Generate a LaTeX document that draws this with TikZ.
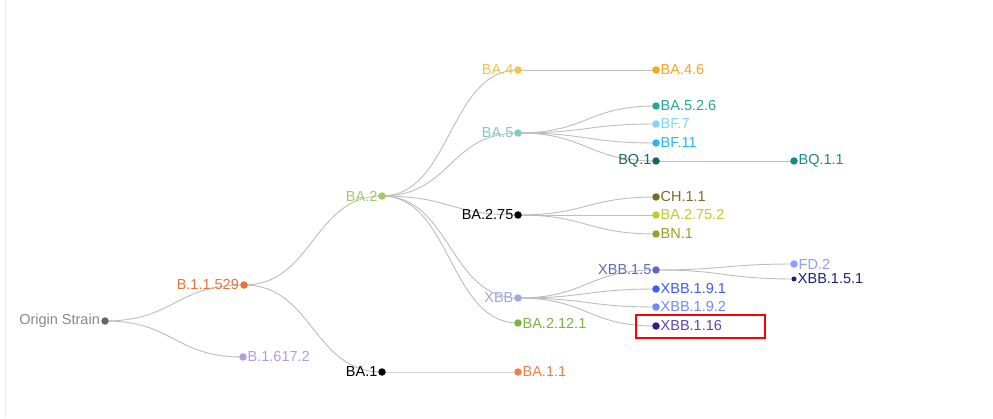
\documentclass[tikz,border=0pt]{standalone}
\usepackage{fontspec}
\setmainfont{Liberation Sans}
\usetikzlibrary{backgrounds}
\definecolor{cOrigin}{HTML}{666666}
\definecolor{tOrigin}{HTML}{888888}
\definecolor{cB529}{HTML}{E8743B}
\definecolor{cB617}{HTML}{B39DDB}
\definecolor{cBAtwo}{HTML}{9CCC65}
\definecolor{cBAfour}{HTML}{F6C244}
\definecolor{cBAfive}{HTML}{80CBC4}
\definecolor{cXBB}{HTML}{9FA8DA}
\definecolor{cBAtwelve}{HTML}{7CB342}
\definecolor{cBAoneone}{HTML}{EF7F4F}
\definecolor{cBAfoursix}{HTML}{F5A623}
\definecolor{cBAfivetwo}{HTML}{26A69A}
\definecolor{cBFseven}{HTML}{81D4FA}
\definecolor{cBFeleven}{HTML}{29B6F6}
\definecolor{cBQone}{HTML}{1A6464}
\definecolor{cBQoneone}{HTML}{1A8A8F}
\definecolor{cCH}{HTML}{7A6B22}
\definecolor{cBAsevfive}{HTML}{C0CA33}
\definecolor{cBN}{HTML}{9E9D24}
\definecolor{cXBBfive}{HTML}{5C6BC0}
\definecolor{cXBBnineone}{HTML}{3D5AFE}
\definecolor{cXBBninetwo}{HTML}{6D8BF5}
\definecolor{cXBBsixteen}{HTML}{311B92}
\definecolor{cFD}{HTML}{8C9EFF}
\definecolor{cXBBfiveone}{HTML}{1A237E}
\definecolor{edgegray}{HTML}{BDBDBD}
\definecolor{framegray}{HTML}{EEEEEE}
\tikzset{
  dot/.style={circle,inner sep=0pt,minimum size=7.5pt,draw=none},
  smalldot/.style={circle,inner sep=0pt,minimum size=5pt,draw=none},
  lt/.style={anchor=east,inner sep=0pt,font=\fontsize{14.5pt}{16pt}\selectfont},
  rt/.style={anchor=west,inner sep=0pt,font=\fontsize{14.5pt}{16pt}\selectfont},
  edge/.style={draw=edgegray,line width=0.9pt},
  hilite/.style={draw=red,line width=2pt}
}
\newcommand{\lnk}[2]{\draw[edge] (#1.center) .. controls +(69,0) and +(-69,0) .. (#2.center);}
\begin{document}
\begin{tikzpicture}[x=1pt,y=1pt]
\useasboundingbox (0,0) rectangle (993,418);
% dots
\node[dot,fill=cOrigin] (os) at (105,97) {};
\node[dot,fill=cB529] (b529) at (244,133) {};
\node[dot,fill=cB617] (b617) at (243,61) {};
\node[dot,fill=cBAtwo] (ba2) at (382,222) {};
\node[dot,fill=black] (ba1) at (382,46) {};
\node[dot,fill=cBAfour] (ba4) at (518,348) {};
\node[dot,fill=cBAfive] (ba5) at (518,285) {};
\node[dot,fill=black] (ba275) at (518,203) {};
\node[dot,fill=cXBB] (xbb) at (518,120) {};
\node[dot,fill=cBAtwelve] (ba2121) at (518,95) {};
\node[dot,fill=cBAoneone] (ba11) at (518,46) {};
\node[dot,fill=cBAfoursix] (ba46) at (656,348) {};
\node[dot,fill=cBAfivetwo] (ba526) at (656,312) {};
\node[dot,fill=cBFseven] (bf7) at (656,294) {};
\node[dot,fill=cBFeleven] (bf11) at (656,275) {};
\node[dot,fill=cBQone] (bq1) at (656,257) {};
\node[dot,fill=cCH] (ch11) at (656,221) {};
\node[dot,fill=cBAsevfive] (ba2752) at (656,203) {};
\node[dot,fill=cBN] (bn1) at (656,184) {};
\node[dot,fill=cXBBfive] (xbb15) at (656,148) {};
\node[dot,fill=cXBBnineone] (xbb191) at (656,129) {};
\node[dot,fill=cXBBninetwo] (xbb192) at (656,111) {};
\node[dot,fill=cXBBsixteen] (xbb116) at (656,92) {};
\node[dot,fill=cBQoneone] (bq11) at (794,257) {};
\node[dot,fill=cFD] (fd2) at (794,154) {};
\node[smalldot,fill=cXBBfiveone] (xbb151) at (794,139) {};
% labels
\node[lt,text=tOrigin] (os-t) at ([xshift=-1pt]os.west) {Origin Strain};
\node[lt,text=cB529] (b529-t) at ([xshift=-1pt]b529.west) {B.1.1.529};
\node[rt,text=cB617] (b617-t) at ([xshift=0.5pt]b617.east) {B.1.617.2};
\node[lt,text=cBAtwo] (ba2-t) at ([xshift=-0.5pt]ba2.west) {BA.2};
\node[lt,text=black] (ba1-t) at ([xshift=-0.5pt]ba1.west) {BA.1};
\node[lt,text=cBAfour] (ba4-t) at ([xshift=-0.5pt]ba4.west) {BA.4};
\node[lt,text=cBAfive] (ba5-t) at ([xshift=-0.5pt]ba5.west) {BA.5};
\node[lt,text=black] (ba275-t) at ([xshift=-0.5pt]ba275.west) {BA.2.75};
\node[lt,text=cXBB] (xbb-t) at ([xshift=-0.5pt]xbb.west) {XBB};
\node[rt,text=cBAtwelve] (ba2121-t) at ([xshift=0.5pt]ba2121.east) {BA.2.12.1};
\node[rt,text=cBAoneone] (ba11-t) at ([xshift=0.5pt]ba11.east) {BA.1.1};
\node[rt,text=cBAfoursix] (ba46-t) at ([xshift=0.5pt]ba46.east) {BA.4.6};
\node[rt,text=cBAfivetwo] (ba526-t) at ([xshift=0.5pt]ba526.east) {BA.5.2.6};
\node[rt,text=cBFseven] (bf7-t) at ([xshift=0.5pt]bf7.east) {BF.7};
\node[rt,text=cBFeleven] (bf11-t) at ([xshift=0.5pt]bf11.east) {BF.11};
\node[lt,text=cBQone] (bq1-t) at ([xshift=-0.5pt]bq1.west) {BQ.1};
\node[rt,text=cCH] (ch11-t) at ([xshift=0.5pt]ch11.east) {CH.1.1};
\node[rt,text=cBAsevfive] (ba2752-t) at ([xshift=0.5pt]ba2752.east) {BA.2.75.2};
\node[rt,text=cBN] (bn1-t) at ([xshift=0.5pt]bn1.east) {BN.1};
\node[lt,text=cXBBfive] (xbb15-t) at ([xshift=-0.5pt]xbb15.west) {XBB.1.5};
\node[rt,text=cXBBnineone] (xbb191-t) at ([xshift=0.5pt]xbb191.east) {XBB.1.9.1};
\node[rt,text=cXBBninetwo] (xbb192-t) at ([xshift=0.5pt]xbb192.east) {XBB.1.9.2};
\node[rt,text=cXBBsixteen!80!white] (xbb116-t) at ([xshift=0.5pt]xbb116.east) {XBB.1.16};
\node[rt,text=cBQoneone] (bq11-t) at ([xshift=0.5pt]bq11.east) {BQ.1.1};
\node[rt,text=cFD] (fd2-t) at ([xshift=0.5pt]fd2.east) {FD.2};
\node[rt,text=cXBBfiveone] (xbb151-t) at ([xshift=1pt]xbb151.east) {XBB.1.5.1};
% highlight box
\node[hilite,minimum width=129pt,minimum height=23pt,inner sep=0pt] (hl) at (700.5,91.5) {};
% background and edges
\begin{pgfonlayer}{background}
\fill[white] (0,0) rectangle (993,418);
\draw[framegray,line width=1pt] (5,0) -- (5,418);
\lnk{os}{b529}\lnk{os}{b617}
\lnk{b529}{ba2}\lnk{b529}{ba1}
\lnk{ba2}{ba4}\lnk{ba2}{ba5}\lnk{ba2}{ba275}\lnk{ba2}{xbb}\lnk{ba2}{ba2121}
\lnk{ba1}{ba11}
\lnk{ba4}{ba46}
\lnk{ba5}{ba526}\lnk{ba5}{bf7}\lnk{ba5}{bf11}\lnk{ba5}{bq1}
\lnk{ba275}{ch11}\lnk{ba275}{ba2752}\lnk{ba275}{bn1}
\lnk{xbb}{xbb15}\lnk{xbb}{xbb191}\lnk{xbb}{xbb192}\lnk{xbb}{xbb116}
\lnk{bq1}{bq11}
\lnk{xbb15}{fd2}\lnk{xbb15}{xbb151}
\end{pgfonlayer}
\end{tikzpicture}
\end{document}
